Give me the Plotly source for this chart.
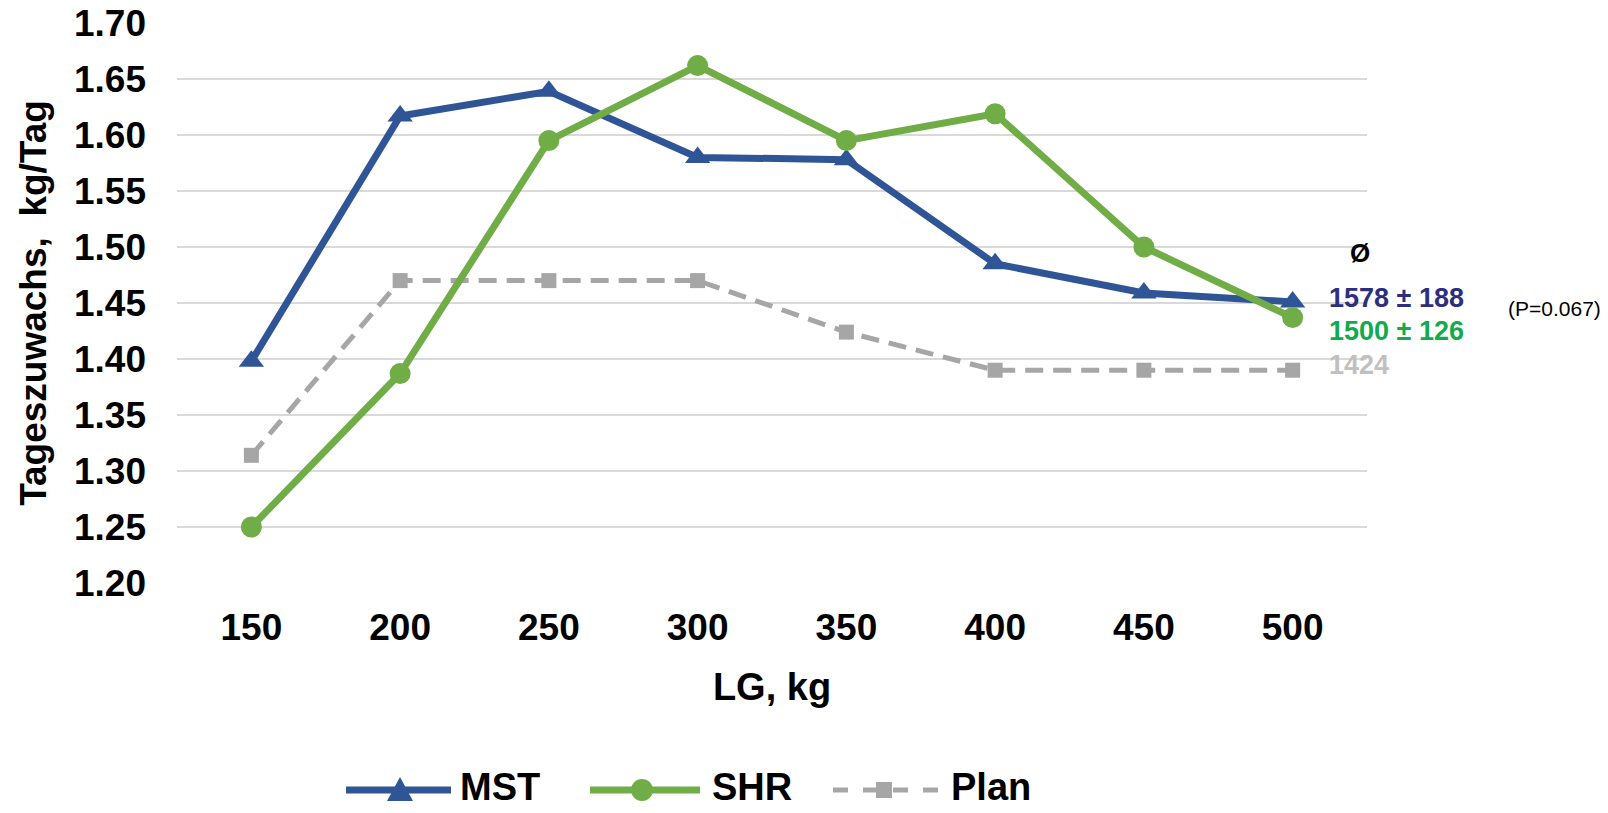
import plotly.graph_objects as go

# ---------------- data ----------------
categories = ["150", "200", "250", "300", "350", "400", "450", "500"]
mst = [1.398, 1.617, 1.639, 1.580, 1.578, 1.485, 1.459, 1.451]
shr = [1.250, 1.387, 1.595, 1.662, 1.595, 1.619, 1.500, 1.437]
plan = [1.314, 1.470, 1.470, 1.470, 1.424, 1.390, 1.390, 1.390]
series_names = ["MST", "SHR", "Plan"]
avg_labels = ["1578 ± 188", "1500 ± 126", "1424"]
p_label = "(P=0.067)"
y_ticks = [1.20, 1.25, 1.30, 1.35, 1.40, 1.45, 1.50, 1.55, 1.60, 1.65, 1.70]

# ---------------- styling ----------------
W, H = 1608, 813
L, R, T, B = 177, 241, 23, 230
PW, PH = W - L - R, H - T - B
FONT = "Liberation Sans, Arial, sans-serif"
C_MST = "#2F5597"
C_SHR = "#70AD47"
C_PLAN = "#A6A6A6"


def px(x):
    return (x - L) / PW


def py(y):
    return (H - B - y) / PH


fig = go.Figure()

fig.add_trace(go.Scatter(
    x=categories, y=plan, name=series_names[2], mode="lines+markers",
    line=dict(color=C_PLAN, width=5, dash="18px,10px"),
    marker=dict(symbol="square", size=15, color=C_PLAN),
    showlegend=False))
fig.add_trace(go.Scatter(
    x=categories, y=mst, name=series_names[0], mode="lines+markers",
    line=dict(color=C_MST, width=7),
    marker=dict(symbol="triangle-up", size=22, color=C_MST),
    showlegend=False))
fig.add_trace(go.Scatter(
    x=categories, y=shr, name=series_names[1], mode="lines+markers",
    line=dict(color=C_SHR, width=7),
    marker=dict(symbol="circle", size=21, color=C_SHR),
    showlegend=False))

# ---------------- custom legend ----------------
shapes = []
annotations = []
legend_y = 790
legend_items = [
    (series_names[0], C_MST, "solid", 7, "tri", 346, 451, 400, 458),
    (series_names[1], C_SHR, "solid", 7, "circ", 590, 700, 642, 710),
    (series_names[2], C_PLAN, "dash", 5, "sq", 833, 938, 884, 949),
]
for name, col, dash, lw, mk, x0, x1, xm, xt in legend_items:
    shapes.append(dict(type="line", xref="paper", yref="paper",
                       x0=px(x0), x1=px(x1), y0=py(legend_y), y1=py(legend_y),
                       line=dict(color=col, width=lw, dash=dash)))
    if mk == "tri":
        shapes.append(dict(type="path", xref="paper", yref="paper",
                           xsizemode="pixel", ysizemode="pixel",
                           xanchor=px(xm), yanchor=py(legend_y),
                           path="M -13,-11 L 13,-11 L 0,13 Z",
                           fillcolor=col, line=dict(width=0)))
    elif mk == "circ":
        shapes.append(dict(type="circle", xref="paper", yref="paper",
                           xsizemode="pixel", ysizemode="pixel",
                           xanchor=px(xm), yanchor=py(legend_y),
                           x0=-11, x1=11, y0=-11, y1=11,
                           fillcolor=col, line=dict(width=0)))
    else:
        shapes.append(dict(type="rect", xref="paper", yref="paper",
                           xsizemode="pixel", ysizemode="pixel",
                           xanchor=px(xm), yanchor=py(legend_y),
                           x0=-8, x1=8, y0=-8, y1=8,
                           fillcolor=col, line=dict(width=0)))
    annotations.append(dict(text=name, xref="paper", yref="paper",
                            x=px(xt), y=py(legend_y - 3), xanchor="left",
                            yanchor="middle", showarrow=False,
                            font=dict(family=FONT, size=38, color="#000000",
                                      weight="bold")))

# ---------------- right side annotations ----------------
annotations.append(dict(text="Ø", xref="paper", yref="paper",
                        x=px(1360), y=py(253), xanchor="center", yanchor="middle",
                        showarrow=False,
                        font=dict(family=FONT, size=26, color="#000000", weight="bold")))
for txt, col, yy in zip(avg_labels, ["#2B2F7E", "#12AA4E", "#C0C0C0"], [298, 331, 365]):
    annotations.append(dict(text=txt, xref="paper", yref="paper",
                            x=px(1327), y=py(yy), xanchor="left", yanchor="middle",
                            showarrow=False,
                            font=dict(family=FONT, size=27, color=col, weight="bold")))
annotations.append(dict(text=p_label, xref="paper", yref="paper",
                        x=px(1554), y=py(308), xanchor="center", yanchor="middle",
                        showarrow=False,
                        font=dict(family=FONT, size=21, color="#000000")))

fig.update_layout(
    width=W, height=H,
    margin=dict(l=L, r=R, t=T, b=B, pad=0),
    paper_bgcolor="white", plot_bgcolor="white",
    font=dict(family=FONT, color="#000000"),
    shapes=shapes, annotations=annotations,
    showlegend=False,
    xaxis=dict(type="category", range=[-0.5, 7.5], showgrid=False,
               showline=False, zeroline=False, ticks="", automargin=False,
               tickfont=dict(family=FONT, size=37, color="#000000", weight="bold"),
               ticklabelstandoff=19,
               title=dict(text="LG, kg", standoff=26,
                          font=dict(family=FONT, size=38, color="#000000", weight="bold"))),
    yaxis=dict(range=[1.2, 1.7], tickvals=y_ticks, tickformat=".2f",
               showgrid=True, gridcolor="#D9D9D9", gridwidth=1.5,
               showline=False, zeroline=False, ticks="", automargin=False,
               tickfont=dict(family=FONT, size=37, color="#000000", weight="bold"),
               ticklabelstandoff=30,
               title=dict(text="Tageszuwachs,  kg/Tag", standoff=16,
                          font=dict(family=FONT, size=37, color="#000000", weight="bold"))),
)

fig.write_html("out.html")
